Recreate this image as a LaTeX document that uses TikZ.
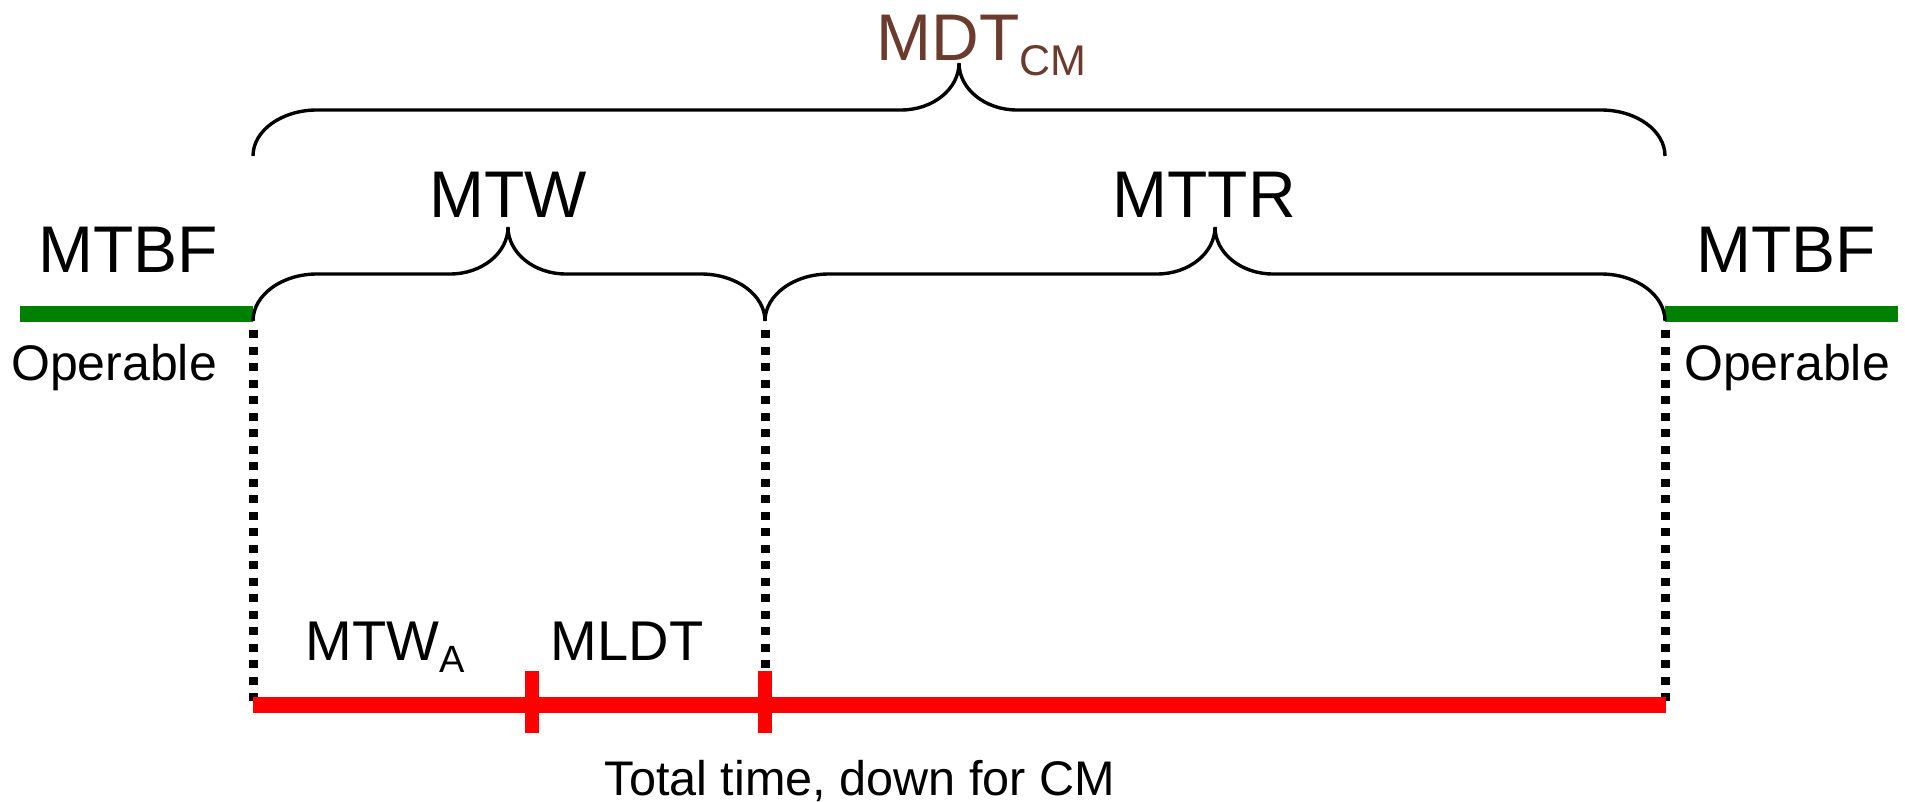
\documentclass[tikz,border=0pt]{standalone}
\usepackage{fontspec}
\setmainfont{Liberation Sans}
\definecolor{upgreen}{RGB}{0,128,0}
\definecolor{downred}{RGB}{255,0,0}
\definecolor{mdtbrown}{RGB}{107,60,46}

% Curly brace: left x, right x, tip x, end y, line y, tip y (y grows downwards)
\newcommand{\curlybrace}[6]{%
  \draw[bracestyle] (#1,#4)
    .. controls (#1,{#4-0.552*(#4-#5)}) and ({#1+64*0.448},#5) .. ({#1+64},#5)
    -- ({#3-58},#5)
    .. controls ({#3-58*0.448},#5) and (#3,{#6+0.552*(#5-#6)}) .. (#3,#6)
    .. controls (#3,{#6+0.552*(#5-#6)}) and ({#3+58*0.448},#5) .. ({#3+58},#5)
    -- ({#2-64},#5)
    .. controls ({#2-64*0.448},#5) and (#2,{#4-0.552*(#4-#5)}) .. (#2,#4);
}

\tikzset{
  bracestyle/.style={draw=black, line width=1.7pt},
  upbar/.style={draw=upgreen, line width=8pt},
  downbar/.style={draw=downred, line width=8.3pt},
  tickmark/.style={draw=downred, line width=6.7pt},
  guide/.style={draw=black, line width=4.5pt, dash pattern=on 4.1pt off 4.15pt},
  lbl/.style={inner sep=0pt, anchor=base},
  big/.style={font=\fontsize{33}{33}\selectfont},
  mid/.style={font=\fontsize{28}{28}\selectfont},
  small/.style={font=\fontsize{24.3}{24.3}\selectfont},
  oplbl/.style={font=\fontsize{25}{25}\selectfont},
}

\begin{document}
\begin{tikzpicture}[x=0.5pt, y=-0.5pt]
\useasboundingbox (0,0) rectangle (1905,802);

% time points on the down-time axis
\coordinate (t0) at (253,705);
\coordinate (t1) at (532,705);
\coordinate (t2) at (765,705);
\coordinate (t3) at (1666,705);
\coordinate (g0) at (253,330);
\coordinate (g1) at (765,330);
\coordinate (g2) at (1665,330);
\coordinate (g1end) at (765,668);

% dotted guides from the braces down to the axis
\draw[guide] (g0) -- (253,704);
\draw[guide] (g1) -- (g1end);
\draw[guide] (g2) -- (1665,704);

% down-time axis with its two markers
\draw[downbar] (t0) -- (t3);
\draw[tickmark] (532,671) -- (532,733);
\draw[tickmark] (765,671) -- (765,733);

% operable stretches
\coordinate (u0) at (20,314);
\coordinate (u1) at (253,314);
\coordinate (u2) at (1665,314);
\coordinate (u3) at (1898,314);
\draw[upbar] (u0) -- (u1);
\draw[upbar] (u2) -- (u3);

% braces
\curlybrace{253}{1665}{959}{156}{110}{63}
\curlybrace{253}{765}{508}{321}{274}{227}
\curlybrace{765}{1665}{1215}{321}{274}{227}

% labels
\node[lbl, anchor=base west, text=mdtbrown, font=\fontsize{33}{33}\selectfont] (mdt) at (876,61)
  {MDT\raisebox{-7.5pt}{\fontsize{21.5}{21.5}\selectfont CM}};
\node[lbl, big] (mtw) at (508,218) {MTW};
\node[lbl, big] (mttr) at (1204,218) {MTTR};
\node[lbl, big] (mtbfl) at (128,272) {MTBF};
\node[lbl, big] (mtbfr) at (1786,272) {MTBF};
\node[lbl, oplbl] (opl) at (114,380) {Operable};
\node[lbl, oplbl] (opr) at (1787,380) {Operable};
\node[lbl, mid, anchor=base west] (mtwa) at (305,660)
  {MTW\raisebox{-6pt}{\fontsize{19}{19}\selectfont A}};
\node[lbl, mid] (mldt) at (627,660) {MLDT};
\node[lbl, small] (total) at (860,795) {Total time, down for CM};
\end{tikzpicture}
\end{document}
